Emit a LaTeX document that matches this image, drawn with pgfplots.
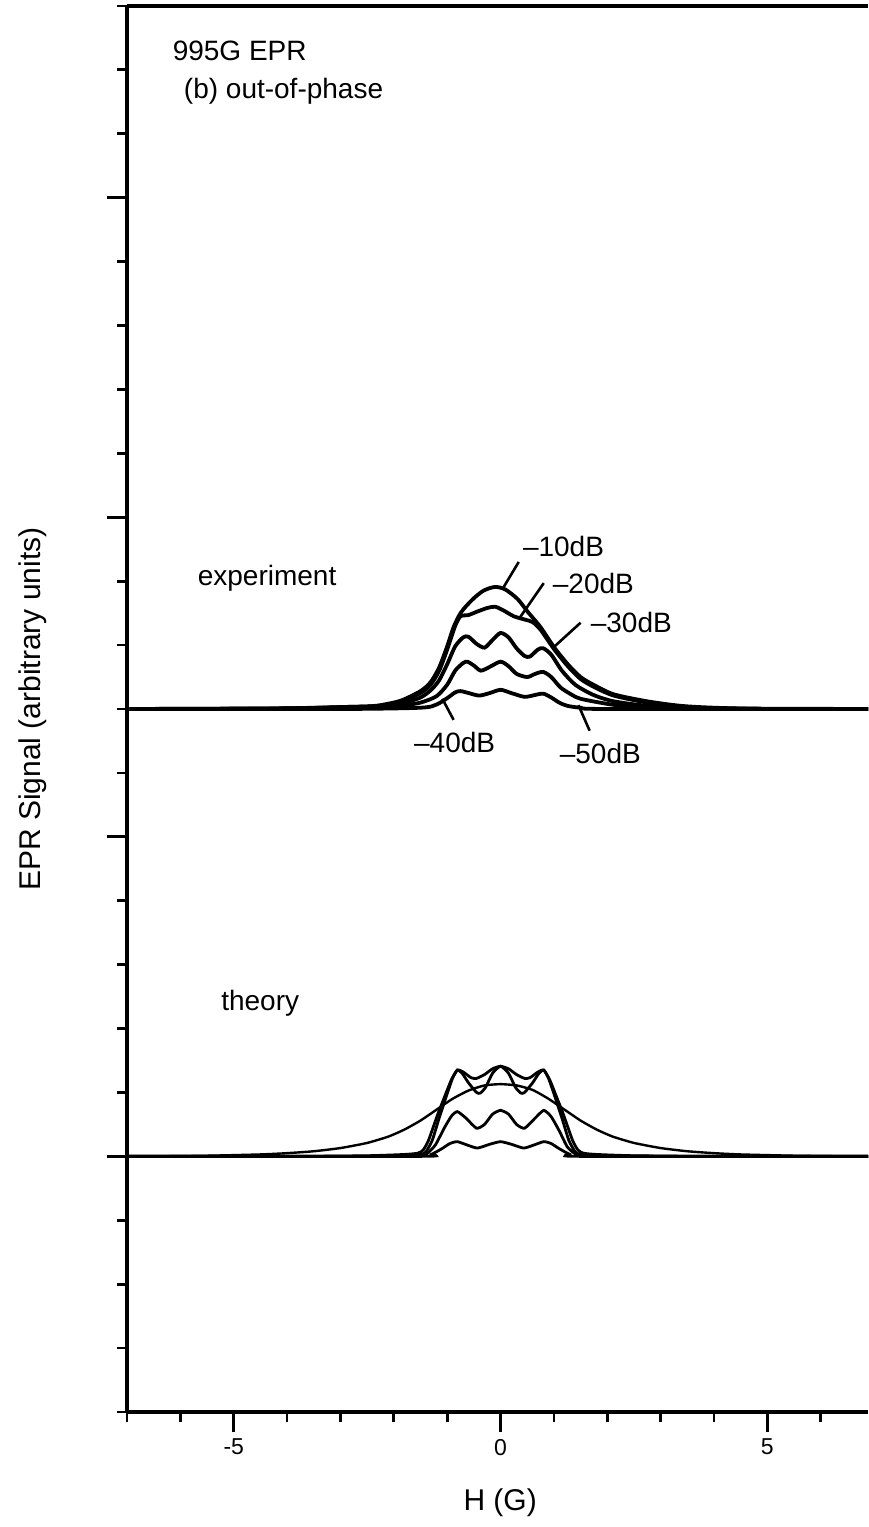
\documentclass[border=0pt]{standalone}
\usepackage{fontspec}
\setmainfont{Liberation Sans}
\usepackage{pgfplots}
\pgfplotsset{compat=1.18}

\begin{document}
\begin{tikzpicture}
\begin{axis}[
  scale only axis,
  width=370.5pt, height=703pt,
  xmin=-7, xmax=6.886, ymin=0, ymax=22,
  axis y line*=left,
  xtick pos=bottom,
  xtick={-5,0,5}, xticklabels={-5,0,5},
  minor xtick={-7,-6,...,6},
  ytick={4,9,14,19}, yticklabels={},
  minor ytick={0,1,...,22},
  tick align=outside,
  major tick length=10pt, minor tick length=5pt,
  tick style={black, line width=1.4pt},
  axis line style={line width=2pt},
  /pgf/number format/assume math mode=true,
  xticklabel style={font=\fontsize{11.5}{13}\selectfont},
  xlabel={H (G)},
  ylabel={EPR Signal (arbitrary units)},
  every axis x label/.style={at={(axis description cs:0.5036,-0.0647)}, anchor=center, font=\fontsize{15}{17}\selectfont},
  every axis y label/.style={at={(axis description cs:-0.127,0.5)}, rotate=90, anchor=center, font=\fontsize{15}{17}\selectfont},
  exp/.style={black, line width=1.9pt, smooth, tension=0.45, mark=none},
  thy/.style={black, line width=1.4pt, smooth, tension=0.35, mark=none},
]
\coordinate (ll) at (rel axis cs:0,0);
\coordinate (ur) at (rel axis cs:1,1);

% experiment, -10 dB ... -50 dB
\addplot[exp] coordinates {(-6.95,11) (-5,11) (-4,11.01) (-3,11.03) (-2.5,11.04) (-2.25,11.06) (-1.87,11.13) (-1.5,11.28) (-1.31,11.42) (-1.15,11.65) (-1.0,11.98) (-0.88,12.28) (-0.75,12.5) (-0.6,12.65) (-0.45,12.77) (-0.3,12.86) (-0.1,12.91) (0.09,12.87) (0.32,12.72) (0.51,12.52) (0.75,12.28) (1.0,11.97) (1.26,11.70) (1.5,11.5) (1.74,11.38) (2.12,11.23) (2.75,11.12) (3.37,11.05) (4,11.02) (5,11) (6.89,11)};
\addplot[exp] coordinates {(-6.95,11) (-4,11.01) (-3,11.03) (-2.25,11.05) (-1.87,11.11) (-1.5,11.25) (-1.31,11.38) (-1.15,11.6) (-1.0,11.93) (-0.85,12.3) (-0.75,12.45) (-0.6,12.47) (-0.45,12.52) (-0.25,12.58) (-0.1,12.6) (0.06,12.54) (0.25,12.45) (0.45,12.4) (0.6,12.36) (0.75,12.24) (1.0,11.94) (1.26,11.67) (1.5,11.47) (1.74,11.35) (2.12,11.21) (2.75,11.1) (3.37,11.04) (4,11.01) (6.89,11)};
\addplot[exp] coordinates {(-6.95,11) (-4,11.01) (-3,11.02) (-2.25,11.04) (-1.87,11.08) (-1.5,11.18) (-1.3,11.3) (-1.15,11.45) (-1.0,11.7) (-0.85,11.98) (-0.7,12.12) (-0.6,12.13) (-0.45,12.02) (-0.3,11.96) (-0.15,12.08) (0,12.19) (0.15,12.12) (0.3,11.95) (0.45,11.83) (0.55,11.82) (0.7,11.93) (0.8,11.95) (0.95,11.85) (1.15,11.6) (1.4,11.38) (1.74,11.22) (2.12,11.12) (2.75,11.05) (3.5,11.02) (5,11) (6.89,11)};
\addplot[exp] coordinates {(-6.95,11) (-4,11) (-3,11.01) (-2.25,11.03) (-1.8,11.06) (-1.5,11.1) (-1.2,11.2) (-1.0,11.38) (-0.85,11.6) (-0.7,11.72) (-0.62,11.74) (-0.5,11.68) (-0.37,11.6) (-0.2,11.66) (0,11.74) (0.15,11.67) (0.3,11.55) (0.5,11.5) (0.65,11.55) (0.8,11.58) (0.95,11.5) (1.12,11.34) (1.3,11.24) (1.5,11.16) (2.0,11.08) (2.3,11.05) (3,11.02) (4,11) (6.89,11)};
\addplot[exp] coordinates {(-6.95,11) (-3,11) (-1.5,11.02) (-1.2,11.07) (-1.0,11.17) (-0.85,11.26) (-0.75,11.28) (-0.6,11.25) (-0.4,11.21) (-0.2,11.25) (0,11.3) (0.2,11.25) (0.45,11.19) (0.65,11.22) (0.8,11.24) (0.95,11.18) (1.1,11.1) (1.25,11.05) (1.5,11.02) (2,11) (6.89,11)};

% theory
\addplot[thy] coordinates {(-7,4) (-4,4) (-2.5,4.01) (-1.8,4.03) (-1.55,4.05) (-1.45,4.1) (-1.35,4.25) (-1.18,4.65) (-1.05,4.93) (-0.92,5.2) (-0.81,5.35) (-0.7,5.32) (-0.55,5.23) (-0.45,5.22) (-0.3,5.28) (-0.15,5.37) (0,5.41) (0.15,5.37) (0.3,5.28) (0.45,5.22) (0.55,5.23) (0.7,5.32) (0.81,5.35) (0.92,5.2) (1.05,4.93) (1.18,4.65) (1.35,4.25) (1.45,4.1) (1.55,4.05) (1.8,4.03) (2.5,4.01) (4,4) (6.89,4)};
\addplot[thy] coordinates {(-7,4) (-4,4) (-2.5,4.0) (-1.8,4.01) (-1.5,4.03) (-1.4,4.07) (-1.28,4.25) (-1.15,4.6) (-1.0,4.98) (-0.9,5.22) (-0.81,5.35) (-0.72,5.3) (-0.6,5.15) (-0.45,5.0) (-0.38,4.99) (-0.28,5.08) (-0.15,5.3) (0,5.41) (0.15,5.3) (0.28,5.08) (0.38,4.99) (0.45,5.0) (0.6,5.15) (0.72,5.3) (0.81,5.35) (0.9,5.22) (1.0,4.98) (1.15,4.6) (1.28,4.25) (1.4,4.07) (1.5,4.03) (1.8,4.01) (2.5,4.0) (4,4) (6.89,4)};
\addplot[thy, line width=1.2pt] coordinates {(-7,4) (-6.5,4) (-5.5,4.01) (-4.5,4.03) (-4,4.05) (-3.5,4.08) (-3,4.13) (-2.5,4.21) (-2.1,4.31) (-1.8,4.42) (-1.5,4.56) (-1.2,4.73) (-0.9,4.9) (-0.6,5.03) (-0.3,5.11) (0,5.13) (0.3,5.11) (0.6,5.04) (0.9,4.9) (1.2,4.73) (1.5,4.56) (1.8,4.42) (2.1,4.31) (2.5,4.21) (3,4.13) (3.5,4.08) (4,4.05) (4.5,4.03) (5.5,4.01) (6.5,4) (6.89,4)};
\addplot[thy] coordinates {(-7,4) (-4,4) (-2,4.0) (-1.5,4.01) (-1.38,4.04) (-1.22,4.18) (-1.05,4.45) (-0.92,4.63) (-0.81,4.7) (-0.65,4.6) (-0.45,4.44) (-0.3,4.5) (-0.15,4.66) (0,4.72) (0.15,4.66) (0.3,4.5) (0.45,4.44) (0.65,4.6) (0.81,4.72) (0.95,4.62) (1.1,4.4) (1.25,4.15) (1.4,4.04) (1.6,4.01) (4,4) (6.89,4)};
\addplot[thy] coordinates {(-7,4) (-1.5,4) (-1.3,4.03) (-1.1,4.12) (-0.95,4.2) (-0.81,4.23) (-0.6,4.17) (-0.43,4.13) (-0.2,4.19) (0,4.23) (0.2,4.19) (0.43,4.13) (0.6,4.17) (0.81,4.23) (0.95,4.2) (1.1,4.12) (1.3,4.03) (1.5,4) (6.89,4)};

% attenuation labels and leaders
\begin{scope}[line width=1.3pt]
\draw (axis cs:0.34,13.30) -- (axis cs:0.06,12.91);
\draw (axis cs:0.81,12.97) -- (axis cs:0.37,12.44);
\draw (axis cs:1.50,12.35) -- (axis cs:1.00,11.97);
\draw (axis cs:-0.88,10.83) -- (axis cs:-1.09,11.16);
\draw (axis cs:1.67,10.66) -- (axis cs:1.46,11.06);
\end{scope}
\begin{scope}[every node/.style={font=\fontsize{14}{16}\selectfont, inner sep=0pt}]
\node at (axis cs:1.18,13.55) {--10dB};
\node at (axis cs:1.74,12.96) {--20dB};
\node at (axis cs:2.45,12.36) {--30dB};
\node at (axis cs:-0.86,10.47) {--40dB};
\node at (axis cs:1.87,10.30) {--50dB};
\node[anchor=west] at (axis cs:-5.68,13.05) {experiment};
\node[anchor=west] at (axis cs:-5.24,6.4) {theory};
\node[anchor=west] at (axis cs:-6.15,21.3) {995G EPR};
\node[anchor=west] at (axis cs:-5.94,20.66) {(b) out-of-phase};
\end{scope}
\end{axis}
\pgfresetboundingbox
\path[use as bounding box] ([xshift=-63.5pt,yshift=-57.5pt]ll) rectangle ([yshift=3pt]ur);
\end{tikzpicture}
\end{document}
